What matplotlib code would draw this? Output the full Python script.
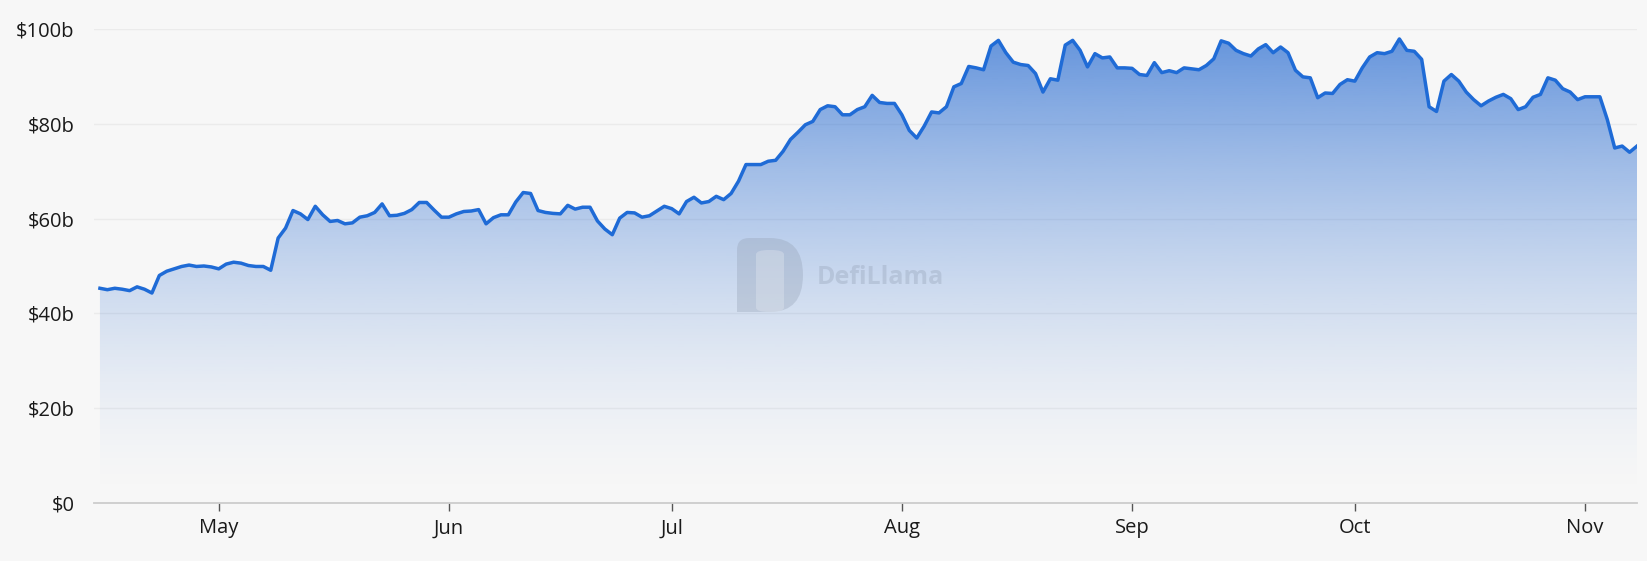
import numpy as np
import pandas as pd
import matplotlib
matplotlib.use('Agg')
import matplotlib.pyplot as plt
import matplotlib.dates as mdates
from matplotlib.path import Path as MPath
from matplotlib.patches import PathPatch, FancyBboxPatch
from matplotlib.ticker import FuncFormatter

#-----------------------------------------------------------
start_date='2025-04-15'
tvl_b=[
	45.3, 45.0, 45.3, 45.1, 44.8, 45.6, 45.1, 44.3, 48.0, 48.9,
	49.4, 49.9, 50.2, 49.9, 50.0, 49.8, 49.4, 50.4, 50.8, 50.6,
	50.1, 49.9, 49.9, 49.1, 55.9, 58.0, 61.7, 61.0, 59.8, 62.6,
	60.8, 59.4, 59.6, 58.9, 59.1, 60.3, 60.6, 61.3, 63.1, 60.6,
	60.7, 61.1, 61.9, 63.4, 63.4, 61.8, 60.3, 60.3, 61.0, 61.5,
	61.6, 61.9, 58.9, 60.2, 60.8, 60.8, 63.5, 65.5, 65.3, 61.7,
	61.3, 61.1, 61.0, 62.8, 62.0, 62.4, 62.4, 59.5, 57.8, 56.6,
	60.1, 61.3, 61.2, 60.3, 60.6, 61.6, 62.6, 62.1, 61.0, 63.6,
	64.5, 63.3, 63.6, 64.7, 64.0, 65.3, 67.9, 71.4, 71.4, 71.4,
	72.1, 72.3, 74.2, 76.7, 78.2, 79.8, 80.5, 83.0, 83.8, 83.6,
	81.9, 81.9, 83.0, 83.6, 86.0, 84.5, 84.3, 84.3, 81.9, 78.6,
	77.0, 79.5, 82.5, 82.3, 83.6, 87.8, 88.5, 92.1, 91.8, 91.4,
	96.4, 97.6, 95.0, 93.0, 92.5, 92.3, 90.6, 86.7, 89.5, 89.2,
	96.6, 97.6, 95.5, 92.0, 94.8, 93.9, 94.1, 91.8, 91.8, 91.7,
	90.4, 90.2, 92.9, 90.8, 91.2, 90.8, 91.8, 91.6, 91.4, 92.3,
	93.7, 97.5, 97.0, 95.5, 94.8, 94.3, 95.8, 96.7, 95.0, 96.2,
	95.0, 91.3, 89.9, 89.7, 85.5, 86.5, 86.4, 88.3, 89.3, 89.0,
	91.8, 94.1, 95.0, 94.8, 95.3, 97.9, 95.5, 95.3, 93.6, 83.6,
	82.6, 89.0, 90.4, 89.0, 86.7, 85.1, 83.8, 84.8, 85.6, 86.2,
	85.3, 83.0, 83.6, 85.6, 86.2, 89.7, 89.2, 87.4, 86.7, 85.1,
	85.7, 85.7, 85.7, 80.9, 74.9, 75.3, 74.0, 75.3,
]
y_ticks=[0, 20, 40, 60, 80, 100]
watermark='DefiLlama'

line_color='#1f6bd6'
fill_color='#2167d0'
bg='#f7f7f7'

#----------------------------------------------------------
dates=pd.date_range(start_date, periods=len(tvl_b), freq='D')
x=mdates.date2num(dates)
y=np.array(tvl_b)

W, H=1647, 561
fig=plt.figure(figsize=(W/100, H/100), dpi=100, facecolor=bg)
ax=fig.add_axes([94/W, 1-503/H, (1637-94)/W, (503-29)/H])
ax.set_facecolor(bg)

x0=x[0]-0.8
x1=x[-1]
ax.set_xlim(x0, x1)
ax.set_ylim(0, 100)

#gradient fill under the line
t=np.linspace(0, 1, 256)
rgb=matplotlib.colors.to_rgb(fill_color)
img=np.zeros((256, 1, 4))
img[..., :3]=rgb
img[:, 0, 3]=0.7*t**1.6
poly=ax.fill_between(x, y, 0, facecolor='none', edgecolor='none')
im=ax.imshow(img, aspect='auto', origin='lower', extent=[x0, x1, 0, 100], zorder=1, interpolation='bilinear')
im.set_clip_path(poly.get_paths()[0], transform=ax.transData)

ax.plot(x, y, color=line_color, lw=2.5, zorder=3, solid_joinstyle='round')

#grid
for v in y_ticks[1:]:
	ax.axhline(v, color='#ebebeb', lw=1.0, zorder=0)

#axes style
for s in ['top', 'right', 'left']:
	ax.spines[s].set_visible(False)
ax.spines['bottom'].set_color('#cccccc')
ax.spines['bottom'].set_linewidth(1.3)
ax.spines['bottom'].set_zorder(4)

ax.set_yticks(y_ticks)
ax.yaxis.set_major_formatter(FuncFormatter(lambda v, p: '$0' if v==0 else f'${int(v)}b'))
ax.tick_params(axis='y', length=0, pad=14, labelsize=14.5, labelcolor='#1a1a1a')
ax.xaxis.set_major_locator(mdates.MonthLocator())
ax.xaxis.set_major_formatter(mdates.DateFormatter('%b'))
ax.tick_params(axis='x', length=6, width=1, color='#555555', pad=5, labelsize=14.5, labelcolor='#1a1a1a')
for lab in ax.get_xticklabels()+ax.get_yticklabels():
	lab.set_fontfamily(['Open Sans', 'DejaVu Sans'])

#watermark
wm_col=(0.58, 0.63, 0.71, 0.35)
fx=lambda px: px/W
fy=lambda py: 1-py/H
verts=[(737, 250), (737, 312), (770, 312), (803, 312), (803, 275), (803, 238), (770, 238), (749, 238),
	(737, 238), (737, 250)]
verts=[(fx(a), fy(b)) for a, b in verts]
codes=[MPath.MOVETO, MPath.LINETO, MPath.LINETO, MPath.CURVE3, MPath.CURVE3, MPath.CURVE3, MPath.CURVE3,
	MPath.LINETO, MPath.CURVE3, MPath.CURVE3]
fig.patches.append(PathPatch(MPath(verts, codes), transform=fig.transFigure, facecolor=wm_col, edgecolor='none', zorder=5))
fig.patches.append(FancyBboxPatch((fx(756), fy(312)), fx(784)-fx(756), fy(250)-fy(312),
	boxstyle='round,pad=0,rounding_size=0.008', transform=fig.transFigure,
	facecolor=(0.9, 0.92, 0.95, 0.35), edgecolor='none', zorder=6))
fig.text(fx(817), fy(277), watermark, fontsize=18, fontweight='bold', color=wm_col,
	family=['Open Sans', 'DejaVu Sans'], ha='left', va='center', zorder=7)

#save
plt.savefig('out.png', dpi=100, facecolor=bg)
plt.close()
